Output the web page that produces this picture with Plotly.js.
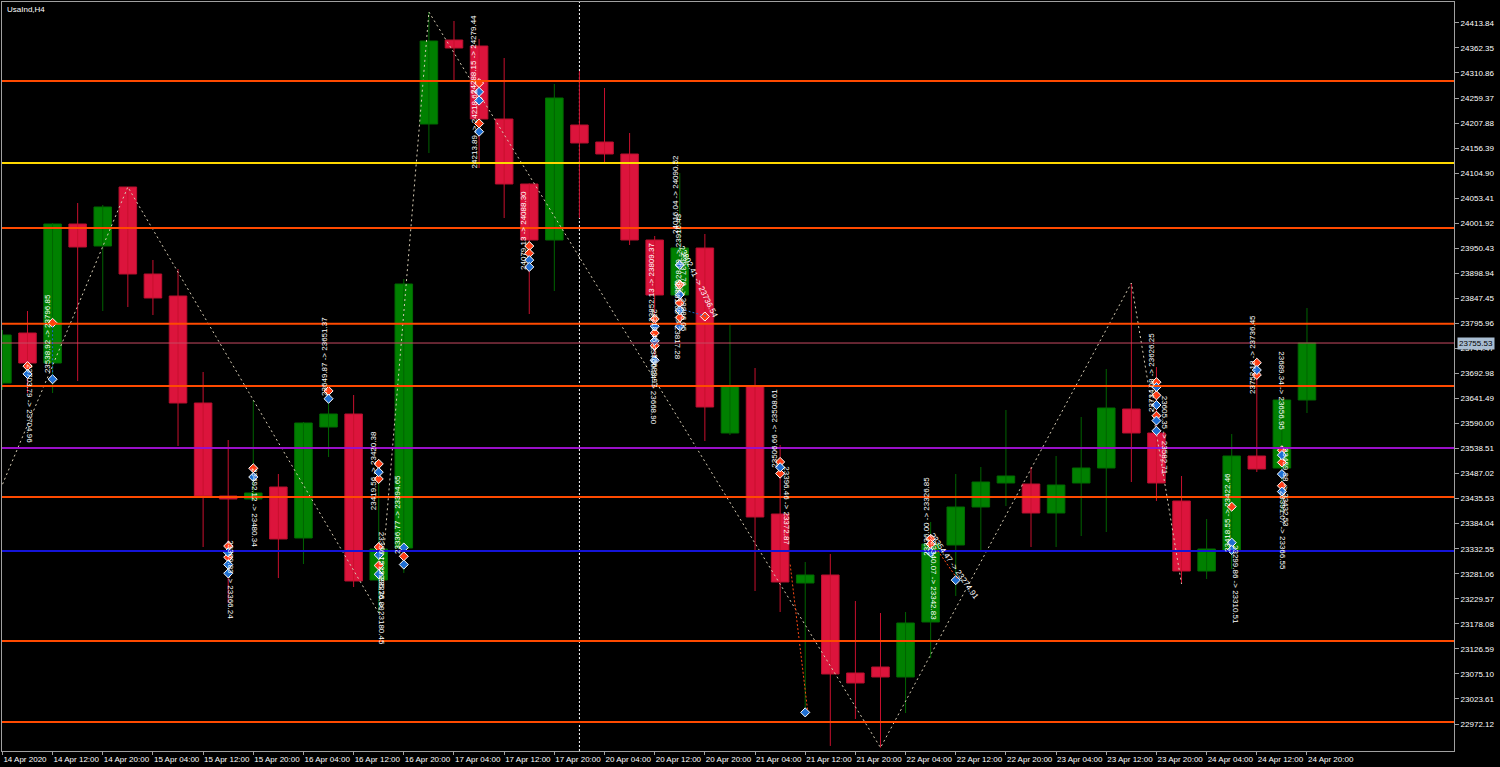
<!DOCTYPE html>
<html><head><meta charset="utf-8">
<script src="https://cdn.plot.ly/plotly-3.0.1.min.js"></script>
<style>html,body{margin:0;padding:0;background:#000;overflow:hidden}#chart{width:1500px;height:767px}</style>
</head><body><div id="chart"></div>
<script>
// ---- bar data (H4) ----
const times = [
 "2020.04.14 04:00","2020.04.14 08:00","2020.04.14 12:00","2020.04.14 16:00","2020.04.14 20:00",
 "2020.04.15 00:00","2020.04.15 04:00","2020.04.15 08:00","2020.04.15 12:00","2020.04.15 16:00","2020.04.15 20:00",
 "2020.04.16 00:00","2020.04.16 04:00","2020.04.16 08:00","2020.04.16 12:00","2020.04.16 16:00","2020.04.16 20:00",
 "2020.04.17 00:00","2020.04.17 04:00","2020.04.17 08:00","2020.04.17 12:00","2020.04.17 16:00","2020.04.17 20:00",
 "2020.04.20 00:00","2020.04.20 04:00","2020.04.20 08:00","2020.04.20 12:00","2020.04.20 16:00","2020.04.20 20:00",
 "2020.04.21 00:00","2020.04.21 04:00","2020.04.21 08:00","2020.04.21 12:00","2020.04.21 16:00","2020.04.21 20:00",
 "2020.04.22 00:00","2020.04.22 04:00","2020.04.22 08:00","2020.04.22 12:00","2020.04.22 16:00","2020.04.22 20:00",
 "2020.04.23 00:00","2020.04.23 04:00","2020.04.23 08:00","2020.04.23 12:00","2020.04.23 16:00","2020.04.23 20:00",
 "2020.04.24 00:00","2020.04.24 04:00","2020.04.24 08:00","2020.04.24 12:00","2020.04.24 16:00","2020.04.24 20:00"];
const open = [23673.32,23776.13,23714.44,24000.27,23955.03,24076.35,23897.46,23852.22,23632.19,23440.96,23434.79,
 23459.46,23354.59,23582.84,23609.57,23268.23,23334.03,24205.90,24378.63,24366.29,24216.18,24082.52,23967.37,
 24203.84,24168.89,24144.21,23967.37,23854.27,23950.92,23570.50,23667.15,23403.94,23262.06,23278.51,23076.99,
 23089.33,23068.77,23181.86,23340.20,23418.34,23467.69,23465.63,23406.00,23467.69,23498.53,23619.85,23570.50,
 23430.67,23286.73,23329.92,23523.21,23498.53,23638.36];
const high = [23782.30,23821.37,24002.10,24043.45,24039.34,24076.35,23926.24,23907.74,23695.94,23556.11,23638.36,
 23486.20,23593.12,23656.00,23648.64,23517.04,23887.17,24436.21,24417.70,24380.69,24341.62,24083.60,24288.15,
 24314.88,24279.93,24187.39,23975.59,24105.14,23979.71,23792.58,23704.16,23545.83,23305.24,23321.69,23225.04,
 23200.37,23202.43,23387.49,23486.20,23500.59,23617.80,23500.59,23523.21,23603.40,23702.11,23878.95,23706.22,
 23482.08,23393.66,23568.45,23710.33,23642.47,23827.54];
const low = [23658.92,23652.76,23652.76,23677.43,23821.37,23829.60,23813.15,23543.77,23336.09,23220.93,23430.67,
 23272.34,23301.13,23521.15,23253.83,23200.37,23282.62,24146.27,24294.32,24115.42,24012.61,23815.20,23862.50,
 24012.61,24123.65,23957.09,23716.50,23815.20,23554.05,23566.39,23245.61,23202.43,22996.80,22927.00,22982.40,
 22923.50,22994.74,23107.84,23235.33,23329.92,23420.39,23336.09,23336.09,23358.70,23366.93,23469.74,23430.67,
 23260.00,23270.28,23290.85,23490.31,23408.06,23611.63];
const close = [23772.02,23714.44,24000.27,23952.98,24035.23,23897.46,23848.10,23632.19,23440.96,23434.79,23447.13,
 23352.54,23591.07,23609.57,23266.17,23331.97,23876.89,24376.57,24362.18,24216.18,24082.52,23967.37,24259.36,
 24166.83,24144.21,23967.37,23854.27,23950.92,23623.97,23667.15,23397.77,23264.11,23278.51,23074.94,23056.43,
 23068.77,23179.81,23342.25,23418.34,23469.74,23482.08,23406.00,23463.58,23498.53,23621.91,23570.50,23467.69,
 23286.73,23331.97,23523.21,23496.48,23638.36,23755.53];

// ---- axis labels ----
const yTickValues = [24413.84,24362.35,24310.86,24259.37,24207.88,24156.39,24104.90,24053.41,24001.92,23950.43,
 23898.94,23847.45,23795.96,23744.47,23692.98,23641.49,23590.00,23538.51,23487.02,23435.53,23384.04,23332.55,
 23281.06,23229.57,23178.08,23126.59,23075.10,23023.61,22972.12];
const xTickTimes = ["2020.04.14 04:00","2020.04.14 12:00","2020.04.14 20:00","2020.04.15 04:00","2020.04.15 12:00",
 "2020.04.15 20:00","2020.04.16 04:00","2020.04.16 12:00","2020.04.16 20:00","2020.04.17 04:00","2020.04.17 12:00",
 "2020.04.17 20:00","2020.04.20 04:00","2020.04.20 12:00","2020.04.20 20:00","2020.04.21 04:00","2020.04.21 12:00",
 "2020.04.21 20:00","2020.04.22 04:00","2020.04.22 12:00","2020.04.22 20:00","2020.04.23 04:00","2020.04.23 12:00",
 "2020.04.23 20:00","2020.04.24 04:00","2020.04.24 12:00","2020.04.24 20:00"];
const xTickLabels = ["14 Apr 2020","14 Apr 12:00","14 Apr 20:00","15 Apr 04:00","15 Apr 12:00","15 Apr 20:00",
 "16 Apr 04:00","16 Apr 12:00","16 Apr 20:00","17 Apr 04:00","17 Apr 12:00","17 Apr 20:00","20 Apr 04:00",
 "20 Apr 12:00","20 Apr 20:00","21 Apr 04:00","21 Apr 12:00","21 Apr 20:00","22 Apr 04:00","22 Apr 12:00",
 "22 Apr 20:00","23 Apr 04:00","23 Apr 12:00","23 Apr 20:00","24 Apr 04:00","24 Apr 12:00","24 Apr 20:00"];

// ---- horizontal levels ----
const levelPrices = [24294.3,24125.7,23992.0,23795.0,23667.2,23539.6,23438.9,23327.8,23142.8,22976.2];
const levelKinds  = ["o","y","o","o","o","p","o","b","o","o"];
const bidPrice = 23755.53;
const separatorTime = "2020.04.20 00:00";

// ---- zigzag ----
const zigzagBar = [-1,5,15,17,35,45,47];
const zigzagPrice = [23342.0,24076.35,23200.37,24436.21,22923.50,23878.95,23260.00];

// ---- trade arrows ----
const sellBar = [1,2,9,9,10,13,15,15,15,15,16,19,19,21,21,26,26,26,27,27,27,27,28,31,31,37,37,46,46,46,49,50,50,51,51,51];
const sellPrice = [23708,23797,23338,23315,23498,23657,23507,23476,23336,23298,23317,24290,24207,23955,23940,23805,23776,23750,
 23876,23875,23838,23808,23810,23511,23487,23353,23342,23675,23648,23606,23419,23715,23690,23535,23510,23462];
const buyBar = [1,2,9,9,9,10,13,15,15,15,16,16,19,19,19,21,21,26,26,26,27,27,27,27,31,32,37,38,46,46,46,46,49,49,50,51,51,51];
const buyPrice = [23692,23681,23325,23300,23282,23480,23641,23490,23320,23280,23335,23300,24272,24254,24190,23926,23912,23790,
 23760,23720,23916,23855,23823,23790,23500,22996,23325,23268,23665,23628,23596,23575,23345,23330,23700,23525,23486,23450];

// ---- trade history labels ----
const tradeText = ["23703.79 -> 23704.96","23538.92 -> 23796.85","23492.12 -> 23480.34","23649.87 -> 23651.37",
 "23506.66 -> 23508.61","23340.07 -> 23342.83","24288.15 -> 24279.44","23734.08 -> 23626.25","23418.55 -> 23422.46",
 "23299.86 -> 23310.51","23802.41 -> 23736.54","23354.47 -> 23274.91","23396.46 -> 23372.87","23309.83 -> 23366.24",
 "23419.56 -> 23420.38","23336.15 -> 23276.80","23295.26 -> 23180.45","23336.77 -> 23394.65","24213.89 -> 24218.62",
 "24079.13 -> 24088.30","23852.13 -> 23809.37","23718.46 -> 23683.97","24016.04 -> 24090.52","23928.09 -> 23916.43",
 "23937.76 -> 23886.05","23605.35 -> 23582.71","23752.18 -> 23736.45","23689.34 -> 23656.95","23459.38 -> 23432.53",
 "23336.00 -> 23326.85","23861.05 -> 23817.28","23700.24 -> 23668.90","23391.07 -> 23366.55"];
const tradeBar = [1.10,1.78,10.07,12.86,30.79,37.13,18.80,45.82,48.81,49.13,27.76,37.93,31.27,9.11,14.77,15.09,15.09,
 15.77,18.82,20.79,25.86,26.02,26.85,26.93,27.15,46.30,49.85,50.95,51.15,36.85,26.90,25.95,51.05];
const tradePrice = [23632,23774,23418,23727,23581,23266,24348,23696,23408,23258,23881,23295,23420,23268,23494,23285,23215,
 23402,24196,23988,23880,23745,24060,23940,23860,23565,23731,23657,23458,23400,23803,23669,23371];
const tradeAngle = [90,-90,90,-90,-90,90,-90,-90,-90,90,64,55,90,90,-90,90,90,-90,-90,-90,-90,90,-90,-90,90,90,-90,90,90,-90,90,90,90];

// ================= build =================
const FONT = "Liberation Sans, Arial, sans-serif";
const idx = times.map((t, i) => i);
const up = idx.filter(i => close[i] >= open[i]);
const dn = idx.filter(i => close[i] < open[i]);

function wickTrace(list, color) {
  const x = [], y = [];
  list.forEach(i => { x.push(i, i, null); y.push(low[i], high[i], null); });
  return {type:"scatter", mode:"lines", x, y, line:{color, width:1}, hoverinfo:"skip", showlegend:false};
}
function bodyTrace(list, fill, edge) {
  return {type:"bar", x:list, base:list.map(i => Math.min(open[i], close[i])),
    y:list.map(i => Math.max(Math.abs(close[i]-open[i]), 1.5)), width:0.7,
    marker:{color:fill, line:{color:edge, width:1}}, hoverinfo:"skip", showlegend:false};
}

const traces = [
  wickTrace(up, "#006400"), wickTrace(dn, "#c8102e"),
  bodyTrace(up, "#008000", "#006a00"), bodyTrace(dn, "#dc143c", "#b8102e"),
  {type:"scatter", mode:"lines", x:zigzagBar, y:zigzagPrice, line:{color:"#d6ccb4", width:1, dash:"2px,3px"}, hoverinfo:"skip", showlegend:false},
  {type:"scatter", mode:"markers", x:sellBar, y:sellPrice, marker:{symbol:"diamond", size:7, color:"#ff3c14", line:{color:"#ffffff", width:1}}, hoverinfo:"skip", showlegend:false},
  {type:"scatter", mode:"markers", x:buyBar, y:buyPrice, marker:{symbol:"diamond", size:7, color:"#1e6ed2", line:{color:"#ffffff", width:1}}, hoverinfo:"skip", showlegend:false}
];

const kindColor = {o:"#ff4a00", y:"#ffd800", p:"#9a10c8", b:"#1414d8"};
const shapes = [];
const sepIdx = times.indexOf(separatorTime);
shapes.push({type:"line", xref:"x", yref:"paper", x0:sepIdx, x1:sepIdx, y0:0, y1:1, layer:"below",
  line:{color:"#ffffff", width:1, dash:"2px,2px"}});
levelPrices.forEach((p, k) => shapes.push({type:"line", xref:"paper", x0:0, x1:1, y0:p, y1:p,
  line:{color:kindColor[levelKinds[k]], width:2}}));
shapes.push({type:"line", xref:"paper", x0:0, x1:1, y0:bidPrice, y1:bidPrice, line:{color:"#c84a62", width:1}});
// dotted trade links
shapes.push({type:"line", x0:31.4, x1:32.1, y0:23300, y1:22998, line:{color:"#ff4a14", width:1, dash:"2px,2px"}});
shapes.push({type:"line", x0:2, x1:2, y0:23790, y1:23685, line:{color:"#1e6ed2", width:1, dash:"2px,2px"}});
shapes.push({type:"line", x0:37.1, x1:38.1, y0:23342, y1:23268, line:{color:"#ff4a14", width:1, dash:"2px,2px"}});
shapes.push({type:"line", x0:27.2, x1:28.1, y0:23823, y1:23810, line:{color:"#1e6ed2", width:1, dash:"2px,2px"}});

const annotations = tradeText.map((t, k) => ({x:tradeBar[k], y:tradePrice[k], text:t, textangle:tradeAngle[k],
  showarrow:false, xanchor:"center", yanchor:"middle", font:{family:FONT, size:8, color:"#ffffff"}}));
annotations.push({xref:"paper", yref:"paper", x:0, y:1, xanchor:"left", yanchor:"top", xshift:3, yshift:-1,
  text:"UsaInd,H4", showarrow:false, font:{family:FONT, size:8, color:"#ffffff"}});
annotations.push({xref:"paper", x:1, y:bidPrice, xanchor:"left", yanchor:"middle", xshift:3, text:bidPrice.toFixed(2),
  showarrow:false, bgcolor:"#a9bdd2", borderpad:1, font:{family:FONT, size:8, color:"#000000"}});

const layout = {
  width:1500, height:767, margin:{l:2, r:46, t:2, b:16},
  paper_bgcolor:"#000000", plot_bgcolor:"#000000", showlegend:false, barmode:"overlay", dragmode:false,
  xaxis:{range:[-0.016, 57.86], tickmode:"array", tickvals:xTickTimes.map(t => times.indexOf(t)), ticktext:xTickLabels,
    ticks:"outside", ticklen:3, tickcolor:"#a0a0a0", ticklabelposition:"outside right", tickangle:0,
    ticklabelstandoff:0, tickfont:{family:FONT, size:8, color:"#ffffff"}, showgrid:false, zeroline:false,
    showline:true, linecolor:"#a0a0a0", linewidth:1, mirror:true, fixedrange:true},
  yaxis:{range:[22916.6, 24456.77], side:"right", tickmode:"array", tickvals:yTickValues,
    ticktext:yTickValues.map(v => v.toFixed(2)), ticks:"outside", ticklen:4, tickcolor:"#a0a0a0",
    tickfont:{family:FONT, size:8, color:"#ffffff"}, showgrid:false, zeroline:false,
    showline:true, linecolor:"#a0a0a0", linewidth:1, mirror:true, fixedrange:true},
  shapes, annotations
};
Plotly.newPlot("chart", traces, layout, {displayModeBar:false, staticPlot:true});
</script></body></html>
